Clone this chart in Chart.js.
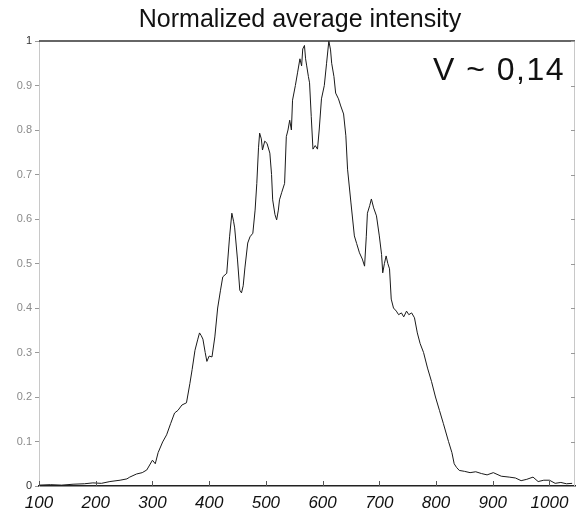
<!DOCTYPE html>
<html>
<head>
<meta charset="utf-8">
<script src="https://cdn.jsdelivr.net/npm/chart.js@4.4.1/dist/chart.umd.min.js"></script>
<style>
  html, body { margin: 0; padding: 0; background: #fff; }
  #wrap { width: 577px; height: 514px; position: relative; }
</style>
</head>
<body>
<div id="wrap"><canvas id="c"></canvas></div>
<script>
const titleText = "Normalized average intensity";
const noteText = "V ~ 0,14";
const xTicks = [100, 200, 300, 400, 500, 600, 700, 800, 900, 1000];
const yTicks = [0, 0.1, 0.2, 0.3, 0.4, 0.5, 0.6, 0.7, 0.8, 0.9, 1];
const xValues = [100,120,140,160,180,195,210,225,243,255,260,272,282,290,300,305,310,318,325,332,339,345,352,360,366,370,375,380,383,386,389,393,396,400,405,410,415,420,424,431,436,440,443,445,450,454,457,460,463,468,472,477,481,484,487,489,492,494,498,502,507,510,512,516,519,522,524,528,533,536,539,542,545,547,552,556,560,563,565,568,570,572,575,577,580,583,587,591,594,598,603,607,611,614,616,620,623,628,632,637,641,644,650,656,660,665,670,674,677,679,683,686,690,695,700,704,706,709,712,715,718,721,725,730,734,739,743,748,752,757,762,767,772,778,785,792,799,806,813,822,828,832,836,841,850,860,870,880,890,901,915,929,940,950,960,971,980,990,1000,1010,1020,1030,1040];
const intensity = [0.002,0.003,0.002,0.004,0.005,0.007,0.006,0.010,0.013,0.016,0.020,0.027,0.030,0.036,0.058,0.050,0.075,0.099,0.115,0.140,0.164,0.170,0.182,0.187,0.230,0.262,0.305,0.330,0.344,0.338,0.330,0.300,0.280,0.292,0.290,0.335,0.400,0.440,0.470,0.478,0.560,0.613,0.595,0.580,0.508,0.440,0.434,0.450,0.490,0.546,0.560,0.568,0.620,0.680,0.760,0.793,0.780,0.755,0.775,0.770,0.748,0.700,0.643,0.610,0.598,0.620,0.643,0.660,0.680,0.785,0.800,0.822,0.800,0.867,0.900,0.930,0.960,0.944,0.982,0.990,0.960,0.944,0.920,0.906,0.830,0.757,0.765,0.757,0.800,0.870,0.900,0.950,1.000,0.980,0.950,0.920,0.883,0.870,0.854,0.836,0.787,0.712,0.636,0.562,0.545,0.524,0.510,0.494,0.560,0.613,0.630,0.645,0.625,0.607,0.562,0.520,0.479,0.500,0.517,0.500,0.488,0.420,0.400,0.393,0.385,0.389,0.380,0.393,0.385,0.389,0.378,0.344,0.320,0.300,0.265,0.235,0.200,0.170,0.140,0.100,0.075,0.050,0.042,0.035,0.033,0.030,0.032,0.028,0.025,0.030,0.022,0.020,0.018,0.012,0.015,0.020,0.010,0.013,0.013,0.006,0.008,0.005,0.006];

const points = xValues.map((x, i) => ({ x: x, y: intensity[i] }));

const frame = {
  id: 'frame',
  afterDraw(chart) {
    const { ctx, chartArea: a, scales } = chart;
    ctx.save();
    ctx.strokeStyle = '#333';
    ctx.lineWidth = 1.5;
    ctx.beginPath(); ctx.moveTo(a.left, a.top); ctx.lineTo(a.right, a.top); ctx.stroke();
    ctx.strokeStyle = '#c8c8c8';
    ctx.lineWidth = 1;
    ctx.beginPath(); ctx.moveTo(a.right - 0.5, a.top); ctx.lineTo(a.right - 0.5, a.bottom); ctx.stroke();
    ctx.strokeStyle = '#555';
    xTicks.forEach(v => {
      const px = Math.round(scales.x.getPixelForValue(v)) + 0.5;
      ctx.beginPath(); ctx.moveTo(px, a.bottom); ctx.lineTo(px, a.bottom - 5); ctx.stroke();
    });
    ctx.strokeStyle = '#999';
    yTicks.forEach(v => {
      const py = Math.round(scales.y.getPixelForValue(v)) + 0.5;
      ctx.beginPath(); ctx.moveTo(a.right, py); ctx.lineTo(a.right - 4, py); ctx.stroke();
    });
    ctx.fillStyle = '#111';
    ctx.font = '25px "Liberation Sans", Arial, sans-serif';
    ctx.textAlign = 'center';
    ctx.textBaseline = 'alphabetic';
    ctx.fillText(titleText, 300, 27);
    ctx.font = '32px "Liberation Sans", Arial, sans-serif';
    ctx.textAlign = 'right';
    try { ctx.letterSpacing = '1.5px'; } catch (e) {}
    ctx.fillText(noteText, 565, 80);
    ctx.restore();
  }
};

new Chart(document.getElementById('c'), {
  type: 'scatter',
  data: {
    datasets: [{
      data: points,
      showLine: true,
      borderColor: '#1a1a1a',
      borderWidth: 1,
      pointRadius: 0,
      tension: 0
    }]
  },
  options: {
    responsive: true,
    maintainAspectRatio: false,
    animation: false,
    layout: { padding: { top: 41, right: 2, left: 0, bottom: 0 } },
    plugins: { legend: { display: false }, tooltip: { enabled: false }, title: { display: false } },
    scales: {
      x: {
        type: 'linear',
        min: 100,
        max: 1045,
        afterBuildTicks: s => { s.ticks = xTicks.map(v => ({ value: v })); },
        afterFit: s => { s.height = 28; },
        grid: { drawOnChartArea: false, drawTicks: false },
        border: { color: '#222', width: 1.5 },
        ticks: {
          padding: 7,
          color: '#111',
          font: { family: '"Liberation Sans", Arial, sans-serif', size: 17, style: 'italic' },
          maxRotation: 0,
          autoSkip: false,
          callback: v => String(v)
        }
      },
      y: {
        type: 'linear',
        min: 0,
        max: 1,
        afterBuildTicks: s => { s.ticks = yTicks.map(v => ({ value: v })); },
        afterFit: s => { s.width = 39; },
        grid: { drawOnChartArea: false, drawTicks: true, tickLength: 4, color: '#999' },
        border: { color: '#c8c8c8', width: 1 },
        ticks: {
          padding: 3,
          color: ctx => (ctx.tick && (ctx.tick.value === 0 || ctx.tick.value === 1)) ? '#333' : '#8a8a8a',
          font: { family: '"Liberation Sans", Arial, sans-serif', size: 11 },
          callback: v => String(v)
        }
      }
    }
  },
  plugins: [frame]
});
</script>
</body>
</html>
